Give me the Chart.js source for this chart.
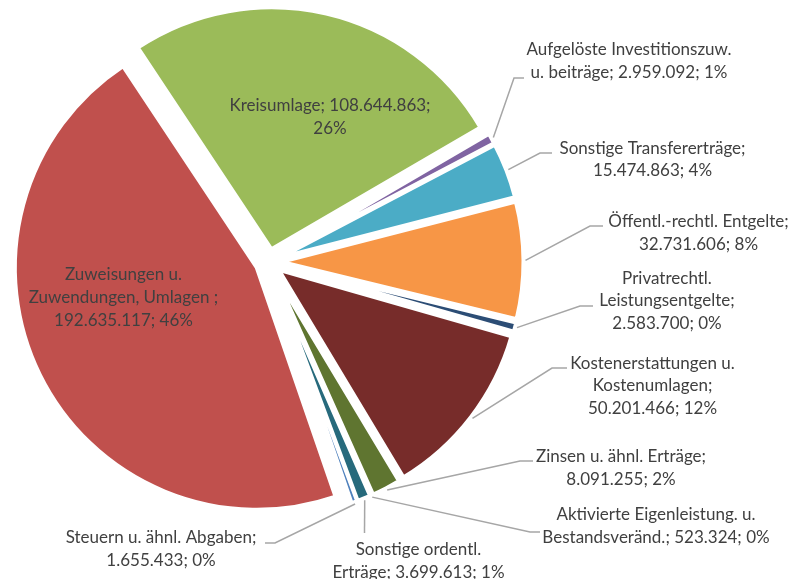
<!DOCTYPE html>
<html>
<head>
<meta charset="utf-8">
<script src="https://cdn.jsdelivr.net/npm/chart.js@4.4.0/dist/chart.umd.min.js"></script>
<style>
  html, body { margin: 0; padding: 0; background: #ffffff; }
  #wrap { width: 794px; height: 579px; }
</style>
</head>
<body>
<div id="wrap"><canvas id="chart" width="794" height="579"></canvas></div>
<script>
// slices in drawing order (clockwise, starting with Steuern)
var categories = [
    'Steuern u. ähnl. Abgaben',
    'Zuweisungen u. Zuwendungen, Umlagen ',
    'Kreisumlage',
    'Aufgelöste Investitionszuw. u. beiträge',
    'Sonstige Transfererträge',
    'Öffentl.-rechtl. Entgelte',
    'Privatrechtl. Leistungsentgelte',
    'Kostenerstattungen u. Kostenumlagen',
    'Zinsen u. ähnl. Erträge',
    'Aktivierte Eigenleistung. u. Bestandsveränd.',
    'Sonstige ordentl. Erträge'
];
var values = [1655433, 192635117, 108644863, 2959092, 15474863, 32731606, 2583700, 50201466, 8091255, 523324, 3699613];
var percentLabels = ['0%', '46%', '26%', '1%', '4%', '8%', '0%', '12%', '2%', '0%', '1%'];
var colors = ['#4F81BD', '#C0504D', '#9BBB59', '#8064A2', '#4BACC6', '#F79646', '#2C4D75', '#772C2A', '#5F7530', '#4D3B62', '#276A7C'];

// where each label sits: text centre x, first line y, words per line, leader elbow and end
var labelLayout = [
    {x: 161, y: 538, wrap: [4, 2], elbow: [275, 543], end: [265, 543]},
    {x: 123.5, y: 275, wrap: [2, 3, 2], inside: true},
    {x: 330, y: 105.7, wrap: [2, 1], inside: true},
    {x: 629, y: 50, wrap: [2, 4], elbow: [514, 78], end: [524, 78]},
    {x: 652.5, y: 148.3, wrap: [2, 2], elbow: [540, 153], end: [552, 153]},
    {x: 698.5, y: 221.7, wrap: [2, 2], elbow: [590, 226], end: [603, 226]},
    {x: 667, y: 278.3, wrap: [1, 1, 2], elbow: [580, 306], end: [593, 306]},
    {x: 652.5, y: 363.3, wrap: [2, 1, 2], elbow: [552, 368], end: [567, 368]},
    {x: 621, y: 456.7, wrap: [4, 2], elbow: [520, 461], end: [533, 461]},
    {x: 656, y: 515, wrap: [3, 3], elbow: [530, 532], end: [540, 532]},
    {x: 418.5, y: 550, wrap: [2, 3], elbow: [364.5, 533], end: [364.5, 533]}
];
var explode = 13;
var lineHeight = 22.7;

function fmt(v) {
    return String(v).replace(/\B(?=(\d{3})+(?!\d))/g, '.');
}

// pull every slice out along its bisector (like an exploded Excel pie)
var explodePlugin = {
    id: 'explode',
    beforeDatasetsDraw: function (chart) {
        var area = chart.chartArea;
        var cx = (area.left + area.right) / 2;
        var cy = (area.top + area.bottom) / 2;
        chart.getDatasetMeta(0).data.forEach(function (arc) {
            var mid = (arc.startAngle + arc.endAngle) / 2;
            arc.x = cx + Math.cos(mid) * explode;
            arc.y = cy + Math.sin(mid) * explode;
        });
    }
};

var labelPlugin = {
    id: 'sliceLabels',
    afterDatasetsDraw: function (chart) {
        var ctx = chart.ctx;
        var arcs = chart.getDatasetMeta(0).data;
        ctx.save();
        ctx.font = '17px Lato';
        ctx.fillStyle = '#404040';
        ctx.textAlign = 'center';
        ctx.textBaseline = 'middle';
        ctx.strokeStyle = '#A6A6A6';
        ctx.lineWidth = 1.5;
        labelLayout.forEach(function (lay, i) {
            var arc = arcs[i];
            if (!lay.inside) {
                var mid = (arc.startAngle + arc.endAngle) / 2;
                var r = arc.outerRadius + 2;
                ctx.beginPath();
                ctx.moveTo(arc.x + Math.cos(mid) * r, arc.y + Math.sin(mid) * r);
                ctx.lineTo(lay.elbow[0], lay.elbow[1]);
                ctx.lineTo(lay.end[0], lay.end[1]);
                ctx.stroke();
            }
            var words = (categories[i] + '; ' + fmt(values[i]) + '; ' + percentLabels[i]).split(' ');
            var k = 0;
            lay.wrap.forEach(function (n, line) {
                ctx.fillText(words.slice(k, k + n).join(' '), lay.x, lay.y + line * lineHeight);
                k += n;
            });
        });
        ctx.restore();
    }
};

new Chart(document.getElementById('chart'), {
    type: 'pie',
    data: {
        labels: categories,
        datasets: [{
            data: values,
            backgroundColor: colors,
            borderColor: '#ffffff',
            borderWidth: 4
        }]
    },
    options: {
        responsive: false,
        animation: false,
        devicePixelRatio: 1,
        rotation: 159.6,
        radius: 242,
        layout: {padding: {left: 0, top: 0, right: 257, bottom: 55}},
        plugins: {
            legend: {display: false},
            tooltip: {enabled: false}
        }
    },
    plugins: [explodePlugin, labelPlugin]
});
</script>
</body>
</html>
